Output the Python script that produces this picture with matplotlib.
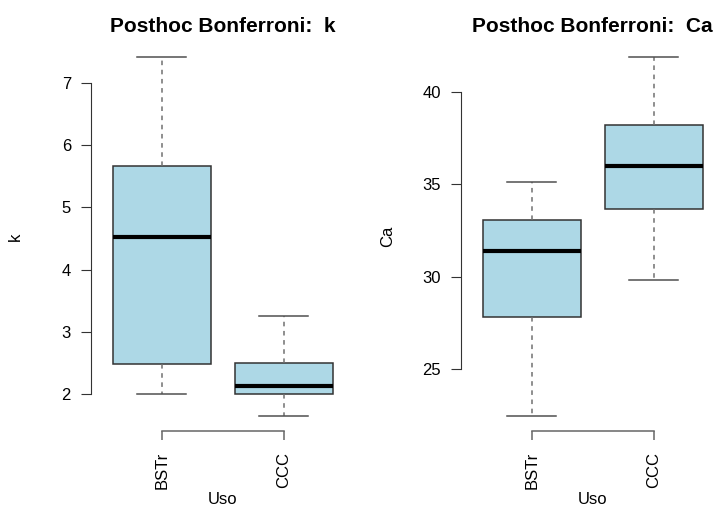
import matplotlib

matplotlib.use("Agg")
import matplotlib.pyplot as plt

plt.rcParams["font.family"] = ["Liberation Sans", "DejaVu Sans"]

groups = ["BSTr", "CCC"]
x_label = "Uso"

# k: whisker low, Q1, median, Q3, whisker high
k_low = [2.00, 1.65]
k_q1 = [2.48, 2.01]
k_med = [4.52, 2.13]
k_q3 = [5.67, 2.50]
k_high = [7.41, 3.25]
k_ticks = [2, 3, 4, 5, 6, 7]

# Ca
ca_low = [22.47, 29.85]
ca_q1 = [27.81, 33.66]
ca_med = [31.42, 36.00]
ca_q3 = [33.06, 38.18]
ca_high = [35.12, 41.86]
ca_ticks = [25, 30, 35, 40]

W, H = 714, 508


def _stats(low, q1, med, q3, high):
    return [
        {"whislo": a, "q1": b, "med": c, "q3": d, "whishi": e, "fliers": []}
        for a, b, c, d, e in zip(low, q1, med, q3, high)
    ]


def _panel(fig, left_px, stats, ticks, var, ylab_off):
    ax = fig.add_axes([left_px / W, (H - 430.5) / H, 263.5 / W, 387.5 / H])
    ax.bxp(
        stats,
        positions=[1, 2],
        widths=0.8,
        patch_artist=True,
        showfliers=False,
        boxprops={"facecolor": "#add8e6", "edgecolor": "#333333", "linewidth": 1.1},
        medianprops={"color": "black", "linewidth": 3.0, "solid_capstyle": "butt"},
        whiskerprops={"color": "#707070", "linewidth": 1.1, "linestyle": (0, (3, 3))},
        capprops={"color": "#505050", "linewidth": 1.1},
        capwidths=0.4,
    )
    lo = min(s["whislo"] for s in stats)
    hi = max(s["whishi"] for s in stats)
    pad = (hi - lo) * 0.04
    ax.set_ylim(lo - pad, hi + pad)
    ax.set_xlim(0.42, 2.58)

    for side in ("top", "right"):
        ax.spines[side].set_visible(False)
    ax.spines["left"].set_bounds(ticks[0], ticks[-1])
    ax.spines["left"].set_color("#333333")
    ax.spines["bottom"].set_bounds(1, 2)
    ax.spines["bottom"].set_color("#666666")
    ax.spines["bottom"].set_linewidth(1.1)

    ax.set_yticks(ticks)
    ax.set_yticklabels([str(t) for t in ticks])
    ax.tick_params(axis="y", length=7.2, pad=7.2, labelsize=12, color="#333333")
    ax.set_xticks([1, 2])
    ax.set_xticklabels(groups, rotation=90)
    ax.tick_params(axis="x", length=6.7, pad=8.6, labelsize=12, color="#666666", width=1.1)

    ax.set_title(f"Posthoc Bonferroni:  {var}", fontsize=15, fontweight="bold", pad=8)
    ax.set_ylabel(var, fontsize=12)
    ax.yaxis.set_label_coords(-ylab_off / 263.5, 0.5)
    ax.set_xlabel(x_label, fontsize=12)
    ax.xaxis.set_label_coords(0.5, -62 / 387.5)
    return ax


fig = plt.figure(figsize=(W / 100, H / 100), dpi=100)
_panel(fig, 91, _stats(k_low, k_q1, k_med, k_q3, k_high), k_ticks, "k", 68)
_panel(fig, 461, _stats(ca_low, ca_q1, ca_med, ca_q3, ca_high), ca_ticks, "Ca", 66)
fig.savefig("out.png", dpi=100)
